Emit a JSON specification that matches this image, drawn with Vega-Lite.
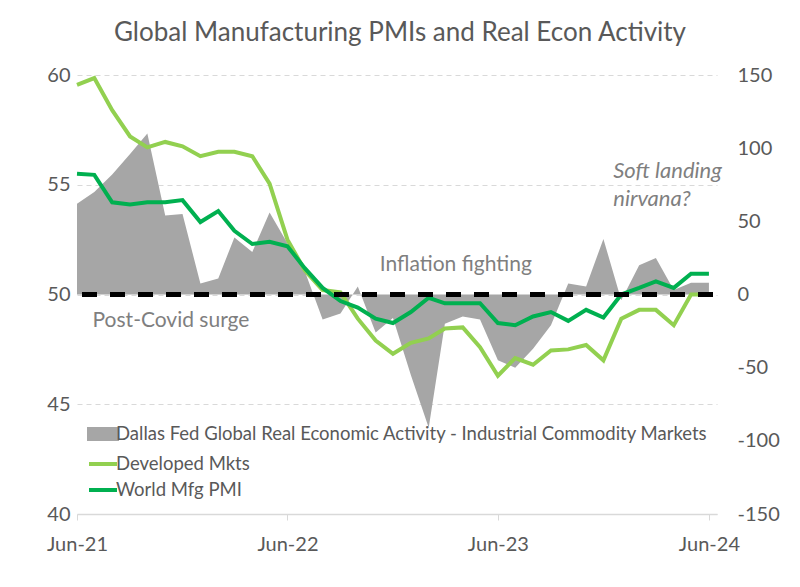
{
  "$schema": "https://vega.github.io/schema/vega-lite/v6.json",
  "width": 640,
  "height": 439,
  "autosize": "none",
  "padding": {"left": 77, "top": 75, "right": 83, "bottom": 73},
  "background": "white",
  "title": {
    "text": "Global Manufacturing PMIs and Real Econ Activity",
    "font": "Lato",
    "fontSize": 26,
    "fontWeight": "normal",
    "color": "#595959",
    "anchor": "middle",
    "offset": 19,
    "dx": 3
  },
  "config": {"view": {"stroke": null}, "font": "Lato"},
  "data": {
    "values": [
      {"date": "2021-06-01T00:00:00", "dallas": 62, "developed": 59.55, "world": 55.5},
      {"date": "2021-07-01T00:00:00", "dallas": 70, "developed": 59.86, "world": 55.45},
      {"date": "2021-08-01T00:00:00", "dallas": 82, "developed": 58.4, "world": 54.2},
      {"date": "2021-09-01T00:00:00", "dallas": 96, "developed": 57.2, "world": 54.1},
      {"date": "2021-10-01T00:00:00", "dallas": 110, "developed": 56.7, "world": 54.2},
      {"date": "2021-11-01T00:00:00", "dallas": 54, "developed": 56.95, "world": 54.2},
      {"date": "2021-12-01T00:00:00", "dallas": 55, "developed": 56.75, "world": 54.3},
      {"date": "2022-01-01T00:00:00", "dallas": 7.5, "developed": 56.3, "world": 53.3},
      {"date": "2022-02-01T00:00:00", "dallas": 11, "developed": 56.5, "world": 53.8},
      {"date": "2022-03-01T00:00:00", "dallas": 39, "developed": 56.5, "world": 52.9},
      {"date": "2022-04-01T00:00:00", "dallas": 29, "developed": 56.3, "world": 52.3},
      {"date": "2022-05-01T00:00:00", "dallas": 56, "developed": 55.05, "world": 52.4},
      {"date": "2022-06-01T00:00:00", "dallas": 35, "developed": 52.5, "world": 52.2},
      {"date": "2022-07-01T00:00:00", "dallas": 16, "developed": 51.1, "world": 51.2},
      {"date": "2022-08-01T00:00:00", "dallas": -17, "developed": 50.2, "world": 50.3},
      {"date": "2022-09-01T00:00:00", "dallas": -13, "developed": 50.1, "world": 49.7},
      {"date": "2022-10-01T00:00:00", "dallas": 5.5, "developed": 48.9, "world": 49.4},
      {"date": "2022-11-01T00:00:00", "dallas": -26, "developed": 47.9, "world": 48.9},
      {"date": "2022-12-01T00:00:00", "dallas": -16, "developed": 47.3, "world": 48.7},
      {"date": "2023-01-01T00:00:00", "dallas": -55, "developed": 47.8, "world": 49.2},
      {"date": "2023-02-01T00:00:00", "dallas": -91, "developed": 48.0, "world": 49.85},
      {"date": "2023-03-01T00:00:00", "dallas": -20, "developed": 48.45, "world": 49.6},
      {"date": "2023-04-01T00:00:00", "dallas": -15, "developed": 48.5, "world": 49.6},
      {"date": "2023-05-01T00:00:00", "dallas": -17, "developed": 47.6, "world": 49.6},
      {"date": "2023-06-01T00:00:00", "dallas": -45, "developed": 46.3, "world": 48.7},
      {"date": "2023-07-01T00:00:00", "dallas": -50, "developed": 47.1, "world": 48.6},
      {"date": "2023-08-01T00:00:00", "dallas": -37, "developed": 46.8, "world": 49.0},
      {"date": "2023-09-01T00:00:00", "dallas": -21, "developed": 47.45, "world": 49.2},
      {"date": "2023-10-01T00:00:00", "dallas": 7.5, "developed": 47.5, "world": 48.8},
      {"date": "2023-11-01T00:00:00", "dallas": 5.5, "developed": 47.7, "world": 49.3},
      {"date": "2023-12-01T00:00:00", "dallas": 38, "developed": 47.0, "world": 48.95},
      {"date": "2024-01-01T00:00:00", "dallas": -4, "developed": 48.9, "world": 50.0},
      {"date": "2024-02-01T00:00:00", "dallas": 20, "developed": 49.3, "world": 50.3},
      {"date": "2024-03-01T00:00:00", "dallas": 25, "developed": 49.3, "world": 50.6},
      {"date": "2024-04-01T00:00:00", "dallas": 3, "developed": 48.6, "world": 50.3},
      {"date": "2024-05-01T00:00:00", "dallas": 8, "developed": 50.0, "world": 50.95},
      {"date": "2024-06-01T00:00:00", "dallas": 8, "developed": 50.0, "world": 50.95}
    ]
  },
  "transform": [{"fold": ["dallas", "developed", "world"], "as": ["series", "value"]}],
  "layer": [
    {
      "transform": [{"filter": "datum.series === 'dallas'"}],
      "mark": {"type": "area", "opacity": 1, "interpolate": "linear"},
      "encoding": {
        "x": {
          "field": "date",
          "type": "temporal",
          "title": null,
          "scale": {"domain": [{"year": 2021, "month": 6, "date": 1}, {"year": 2024, "month": 6, "date": 15}]},
          "axis": {
            "values": [{"year": 2021, "month": 6, "date": 1}, {"year": 2022, "month": 6, "date": 1}, {"year": 2023, "month": 6, "date": 1}, {"year": 2024, "month": 6, "date": 1}],
            "format": "%b-%y",
            "grid": false,
            "domainColor": "#d9d9d9",
            "domainWidth": 1.5,
            "tickColor": "#d9d9d9",
            "tickSize": 6,
            "labelFont": "Lato",
            "labelFontSize": 20,
            "labelColor": "#595959",
            "labelPadding": 14,
            "labelFlush": false
          }
        },
        "y": {
          "field": "value",
          "type": "quantitative",
          "title": null,
          "scale": {"domain": [-150, 150], "nice": false},
          "axis": {
            "orient": "right",
            "values": [-150, -100, -50, 0, 50, 100, 150],
            "labelExpr": "'' + datum.value",
            "grid": false,
            "domain": false,
            "ticks": false,
            "labelAlign": "left",
            "labelPadding": 20,
            "labelFont": "Lato",
            "labelFontSize": 20,
            "labelColor": "#595959"
          }
        },
        "y2": {"datum": 0},
        "color": {
          "field": "series",
          "type": "nominal",
          "scale": {"domain": ["dallas", "developed", "world"], "range": ["#a6a6a6", "#92d050", "#00b050"]},
          "legend": {
            "orient": "none",
            "legendX": 10,
            "legendY": 343,
            "title": null,
            "labelExpr": "datum.value === 'dallas' ? 'Dallas Fed Global Real Economic Activity - Industrial Commodity Markets' : datum.value === 'developed' ? 'Developed Mkts' : 'World Mfg PMI'",
            "labelFont": "Lato",
            "labelFontSize": 18.5,
            "labelColor": "#595959",
            "labelLimit": 900,
            "labelOffset": -3,
            "symbolSize": 784,
            "rowPadding": 0,
            "symbolOpacity": 1,
            "encode": {
              "symbols": {
                "update": {
                  "shape": {"signal": "datum.value === 'dallas' ? 'M-1,-0.36H1V0.36H-1Z' : 'M-1,0H1'"},
                  "fill": {"signal": "datum.value === 'dallas' ? '#a6a6a6' : 'transparent'"},
                  "stroke": {"signal": "datum.value === 'developed' ? '#92d050' : datum.value === 'world' ? '#00b050' : 'transparent'"},
                  "strokeWidth": {"value": 4},
                  "opacity": {"value": 1}
                }
              }
            }
          }
        }
      }
    },
    {
      "layer": [
        {
          "transform": [{"filter": "datum.series !== 'dallas'"}],
          "mark": {"type": "line", "strokeWidth": 4, "interpolate": "linear"},
          "encoding": {
            "x": {"field": "date", "type": "temporal"},
            "y": {
              "field": "value",
              "type": "quantitative",
              "title": null,
              "scale": {"domain": [40, 60], "nice": false},
              "axis": {
                "orient": "left",
                "values": [40, 45, 50, 55, 60],
                "grid": true,
                "gridColor": "#d9d9d9",
                "gridDash": [5, 4],
                "gridWidth": 1,
                "domain": false,
                "ticks": false,
                "labelPadding": 7,
                "labelFont": "Lato",
                "labelFontSize": 20,
                "labelColor": "#595959"
              }
            },
            "color": {
              "field": "series",
              "type": "nominal",
              "scale": {"domain": ["dallas", "developed", "world"], "range": ["#a6a6a6", "#92d050", "#00b050"]}
            }
          }
        },
        {
          "mark": {"type": "rule", "color": "black", "strokeWidth": 4, "strokeDash": [15, 13], "strokeDashOffset": -4},
          "encoding": {"y": {"datum": 50}}
        },
        {
          "data": {
            "values": [
              {"date": "2021-11-11T00:00:00", "pmi": 48.5, "label": "Post-Covid surge"},
              {"date": "2023-03-20T00:00:00", "pmi": 51.09, "label": "Inflation fighting"}
            ]
          },
          "mark": {"type": "text", "font": "Lato", "fontSize": 21, "color": "#7f7f7f", "align": "center", "baseline": "alphabetic"},
          "encoding": {
            "x": {"field": "date", "type": "temporal"},
            "y": {"field": "pmi", "type": "quantitative"},
            "text": {"field": "label"}
          }
        },
        {
          "data": {
            "values": [
              {"date": "2023-12-18T00:00:00", "pmi": 55.32, "label": "Soft landing"},
              {"date": "2023-12-18T00:00:00", "pmi": 54.05, "label": "nirvana?"}
            ]
          },
          "mark": {"type": "text", "font": "Lato", "fontSize": 22, "fontStyle": "italic", "color": "#7f7f7f", "align": "left", "baseline": "alphabetic"},
          "encoding": {
            "x": {"field": "date", "type": "temporal"},
            "y": {"field": "pmi", "type": "quantitative"},
            "text": {"field": "label"}
          }
        }
      ]
    }
  ],
  "resolve": {"scale": {"y": "independent"}}
}
